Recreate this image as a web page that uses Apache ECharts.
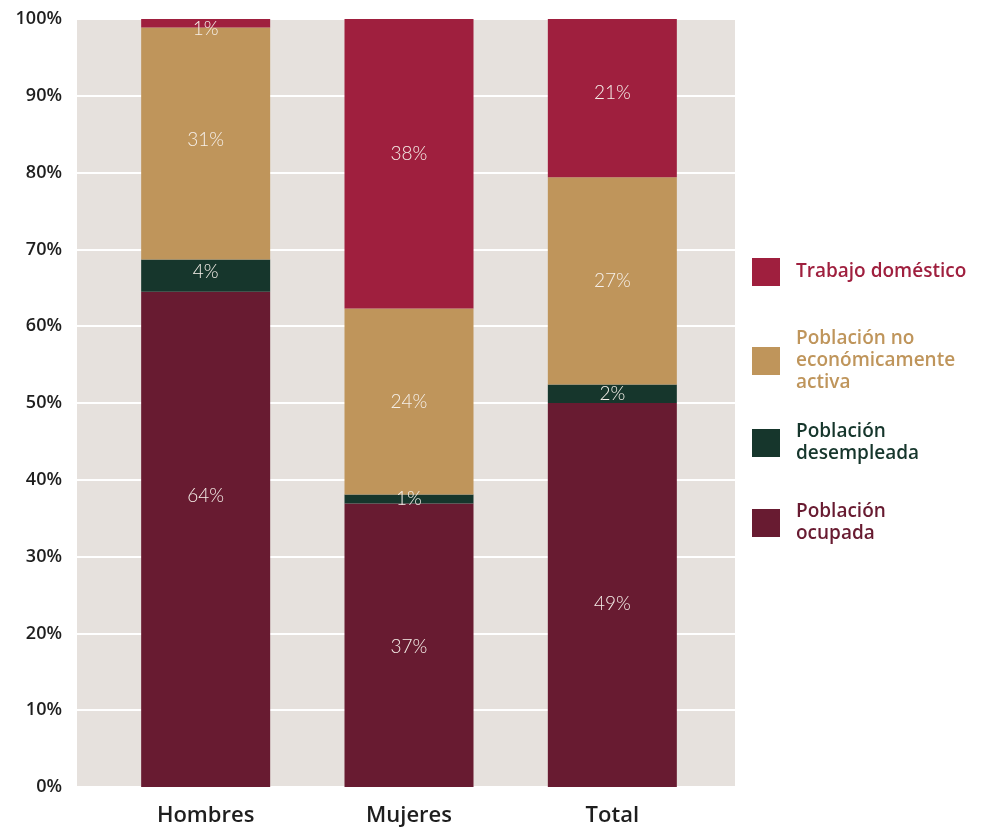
<!DOCTYPE html>
<html>
<head>
<meta charset="utf-8">
<script src="https://cdn.jsdelivr.net/npm/echarts@6/dist/echarts.min.js"></script>
<style>
html,body{margin:0;padding:0;background:#fff;}
#c{width:1001px;height:827px;}
</style>
</head>
<body>
<div id="c"></div>
<script>
const categories = ['Hombres', 'Mujeres', 'Total'];
const seriesNames = ['Población ocupada', 'Población desempleada', 'Población no económicamente activa', 'Trabajo doméstico'];
const ocupada = [64.5, 36.9, 50.0];
const desempleada = [4.2, 1.2, 2.4];
const noActiva = [30.2, 24.2, 27.0];
const domestico = [1.1, 37.7, 20.6];
const ocupadaLabels = ['64%', '37%', '49%'];
const desempleadaLabels = ['4%', '1%', '2%'];
const noActivaLabels = ['31%', '24%', '27%'];
const domesticoLabels = ['1%', '38%', '21%'];
const yTicks = [0, 10, 20, 30, 40, 50, 60, 70, 80, 90, 100];

const colors = ['#681b31', '#16362c', '#bf955b', '#9f1f3e'];
const legendLines = {
  'Trabajo doméstico': 'Trabajo doméstico',
  'Población no económicamente activa': 'Población no\neconómicamente\nactiva',
  'Población desempleada': 'Población\ndesempleada',
  'Población ocupada': 'Población\nocupada'
};
const values = [ocupada, desempleada, noActiva, domestico];
const labels = [ocupadaLabels, desempleadaLabels, noActivaLabels, domesticoLabels];
// label vertical nudges (style only)
const labelNudge = [[-43, 2, 9], [-4, 0, 0], [-4, 0, 0], [6, -10, -5]];

const series = seriesNames.map((name, si) => ({
  name: name,
  type: 'bar',
  stack: 'total',
  xAxisIndex: 1,
  yAxisIndex: 1,
  barWidth: 129,
  itemStyle: { color: colors[si] },
  label: {
    show: true,
    position: 'inside',
    color: '#f6f0ea',
    fontFamily: 'Lato',
    fontSize: 19,
    fontWeight: 300,
    formatter: p => labels[si][p.dataIndex]
  },
  data: values[si].map((v, i) => ({ value: v, label: { offset: [0, labelNudge[si][i]] } }))
}));

const legendTops = [258, 328, 421, 501];
const legendOrder = ['Trabajo doméstico', 'Población no económicamente activa', 'Población desempleada', 'Población ocupada'];
const legends = legendOrder.map((n, k) => ({
  show: true,
  orient: 'vertical',
  left: 752,
  top: legendTops[k],
  padding: 0,
  itemWidth: 28,
  itemHeight: 28,
  itemGap: 0,
  icon: 'rect',
  selectedMode: false,
  formatter: nm => legendLines[nm],
  textStyle: {
    color: colors[seriesNames.indexOf(n)],
    fontFamily: 'Open Sans',
    fontWeight: 600,
    fontSize: 19,
    lineHeight: 22,
    padding: [0, 0, 0, 11]
  },
  data: [n]
}));

const chart = echarts.init(document.getElementById('c'), null, { renderer: 'canvas' });
chart.setOption({
  animation: false,
  backgroundColor: '#ffffff',
  legend: legends,
  grid: [
    { left: 77, right: 266, top: 19, bottom: 40, show: true, backgroundColor: '#e6e1dd', borderWidth: 0 },
    { left: 104, right: 287, top: 19, bottom: 40 }
  ],
  xAxis: [
    { gridIndex: 0, type: 'value', show: false, min: 0, max: 1 },
    {
      gridIndex: 1, type: 'category', data: categories,
      axisLine: { show: false }, axisTick: { show: false },
      axisLabel: { color: '#1e1e1e', fontFamily: 'Open Sans', fontWeight: 600, fontSize: 22, margin: 18 }
    }
  ],
  yAxis: [
    {
      gridIndex: 0, type: 'value', min: yTicks[0], max: yTicks[yTicks.length - 1], interval: 10,
      axisLine: { show: false }, axisTick: { show: false },
      splitLine: { show: true, lineStyle: { color: '#ffffff', width: 2 } },
      axisLabel: { formatter: '{value}%', color: '#1e1e1e', fontFamily: 'Open Sans', fontWeight: 600, fontSize: 18, margin: 15 }
    },
    { gridIndex: 1, type: 'value', min: 0, max: 100, show: false }
  ],
  series: series
});
</script>
</body>
</html>
